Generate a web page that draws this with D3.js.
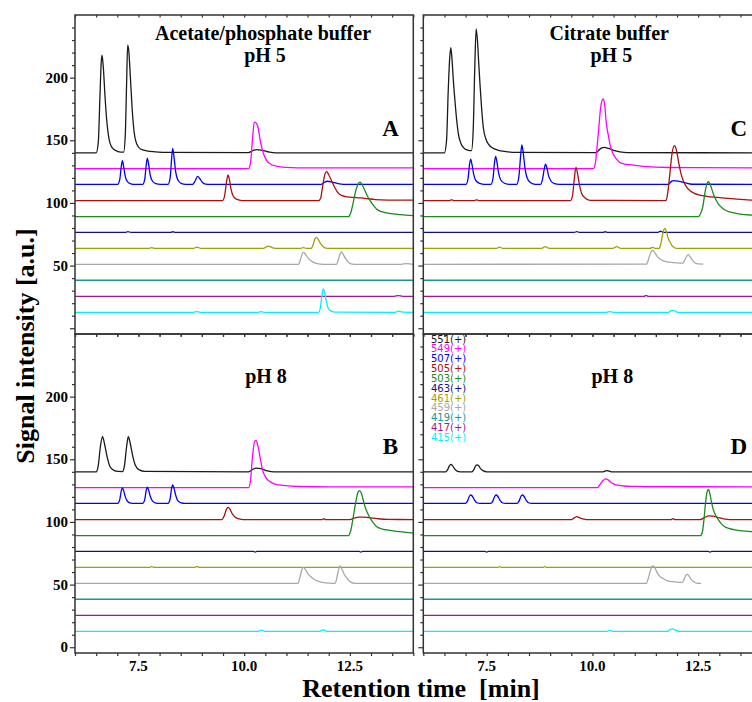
<!DOCTYPE html>
<html><head><meta charset="utf-8">
<script src="https://cdn.jsdelivr.net/npm/d3@7"></script>
<style>body{margin:0;background:#fff} svg{display:block}</style>
</head><body>
<svg id="c" width="752" height="702"></svg>
<script>
// ---------- data ----------
const ions = ["551(+)","549(+)","507(+)","505(+)","503(+)","463(+)","461(+)","459(+)","419(+)","417(+)","415(+)"];
const ionColors = ["#1a1a1a","#ff00ff","#0000ff","#aa1010","#1c8a1c","#10108a","#a0a000","#a8a8a8","#1a9494","#a0188c","#00f0ff"];
const baselines = [140, 127.4, 114.8, 101.9, 89, 76.5, 63.7, 51, 38.3, 25.5, 12.7];
const timeRange = [6, 14];
const xTickLabels = [7.5, 10.0, 12.5];
const yTickLabelsTop = [50, 100, 150, 200];
const yTickLabelsBottom = [0, 50, 100, 150, 200];
// traces recorded only up to their last point (panel, trace index)
const shortRuns = [["C", 7], ["D", 7]];

// Panel A: acetate/phosphate buffer pH 5 — [time (min), signal (a.u.)]
const panelA = [
  [[6.50,140],[6.55,148],[6.59,185],[6.62,212],[6.64,218],[6.67,208],[6.71,185],[6.75,166],[6.80,152],[6.86,145],[6.95,142],[7.08,140.5],
   [7.15,140.5],[7.19,155],[7.22,195],[7.245,226],[7.27,222],[7.31,200],[7.35,176],[7.40,156],[7.46,147],[7.55,143],[7.7,141.5],[7.9,140.8],[8.2,140.3],
   [10.1,140.2],[10.22,142],[10.3,142.6],[10.42,142],[10.6,140.5],[10.75,140]],
  [[10.10,127.4],[10.15,132],[10.20,152],[10.24,164.5],[10.28,164],[10.33,160],[10.38,150],[10.45,140],[10.53,134],[10.65,130.5],[10.8,129.2],[11.0,128.4],[11.5,128],[14,128]],
  [[7.01,114.8],[7.06,119],[7.09,128],[7.12,133.7],[7.15,129],[7.19,121],[7.24,117],[7.32,115.3],[7.42,114.8],
   [7.60,114.8],[7.65,119],[7.68,129],[7.71,135.8],[7.74,131],[7.78,122],[7.83,117.5],[7.91,115.4],[8.02,114.8],
   [8.20,114.8],[8.25,120],[8.28,133],[8.31,143.5],[8.34,137],[8.38,125],[8.43,118.5],[8.51,115.6],[8.62,114.8],
   [8.78,114.8],[8.84,117.5],[8.90,121.2],[8.95,119.5],[9.01,116.5],[9.09,115],[9.2,114.8],
   [11.82,114.8],[11.9,116.5],[11.97,117.3],[12.1,116.5],[12.3,115],[12.4,114.8]],
  [[9.49,101.9],[9.54,106],[9.58,116],[9.62,122.3],[9.65,119],[9.69,111],[9.74,105.5],[9.82,103],[9.95,101.9],
   [11.76,101.9],[11.81,104],[11.86,114],[11.91,123],[11.95,125],[12.0,122.5],[12.07,117.5],[12.14,112.5],[12.21,108.5],[12.32,105.8],[12.45,104.8],[12.6,104.4],[12.75,104],[12.9,103.5],[13.1,102.7],[13.4,102.3],[14,102.2]],
  [[12.46,89],[12.52,92],[12.58,100.5],[12.65,111],[12.70,115.5],[12.74,116.5],[12.79,114.5],[12.86,109.5],[12.93,104.5],[12.98,101.8],[13.06,97.8],[13.13,95.2],[13.25,93],[13.37,92],[13.52,91.2],[13.7,90.6],[14,89.9]],
  [[7.2,76.5],[7.25,77.1],[7.32,76.5],[8.26,76.5],[8.31,77],[8.38,76.5]],
  [[7.74,63.7],[7.81,64.3],[7.9,63.7],[8.8,63.7],[8.88,64.8],[8.98,63.7],[10.45,63.7],[10.57,65.6],[10.7,63.9],[10.8,63.7],[11.33,63.7],[11.4,64.4],[11.47,63.7],
   [11.58,63.7],[11.63,66.5],[11.67,71],[11.71,72.5],[11.75,71],[11.8,68],[11.86,65.5],[11.93,64],[12.05,63.7]],
  [[11.28,51],[11.33,54.5],[11.37,59],[11.40,60.5],[11.44,59.5],[11.50,56.5],[11.57,54],[11.67,52.2],[11.8,51.2],[11.95,51],
   [12.18,51],[12.23,55],[12.27,59.5],[12.30,61],[12.34,59],[12.40,55.5],[12.47,52.5],[12.56,51.2],[12.65,51],
   [13.72,51],[13.82,51.6],[13.95,51.2],[14,51]],
  [],
  [[13.55,25.5],[13.64,26.1],[13.75,25.5]],
  [[8.8,12.7],[8.88,13.3],[8.96,12.7],[10.3,12.7],[10.4,13.2],[10.5,12.7],
   [11.76,12.7],[11.80,16],[11.84,26],[11.87,31.3],[11.90,29],[11.94,22],[11.99,16],[12.06,13.6],[12.15,12.8],
   [13.57,12.7],[13.65,13.6],[13.75,12.8],[14,12.7]]
];

// Panel B: acetate/phosphate buffer pH 8
const panelB = [
  [[6.50,140],[6.55,145],[6.60,160],[6.65,168],[6.70,162],[6.76,152],[6.83,144],[6.92,141.2],[7.02,140.3],
   [7.12,140.2],[7.17,145],[7.22,160],[7.26,168],[7.31,162],[7.37,152],[7.43,145],[7.52,141.5],[7.65,140.3],
   [10.1,140],[10.2,142],[10.28,143],[10.4,142.5],[10.55,140.8],[10.7,140]],
  [[10.11,127.4],[10.15,133],[10.2,153],[10.25,164.5],[10.28,165],[10.33,160],[10.38,151],[10.44,141],[10.52,135],[10.62,132],[10.75,130],[10.92,129.2],[11.3,128.3],[12,128],[14,128]],
  [[7.01,114.8],[7.06,118],[7.09,124],[7.12,127.2],[7.15,125],[7.19,120],[7.24,116.5],[7.32,115],[7.4,114.8],
   [7.60,114.8],[7.65,118],[7.68,124.5],[7.71,127.8],[7.74,125.5],[7.78,120.5],[7.83,116.8],[7.91,115.1],[8.0,114.8],
   [8.20,114.8],[8.25,118.5],[8.28,126],[8.31,129.5],[8.34,127],[8.38,121.5],[8.43,117],[8.51,115.2],[8.6,114.8]],
  [[9.47,101.9],[9.53,105],[9.58,110],[9.62,111.7],[9.66,110.5],[9.72,106.5],[9.79,103.8],[9.88,102.4],[9.98,101.9],
   [11.85,101.9],[11.88,102.6],[11.92,101.9],
   [12.5,101.9],[12.6,103],[12.7,103.8],[12.8,103.9],[12.95,103.4],[13.15,102.6],[13.4,102]],
  [[12.46,89],[12.52,93],[12.58,104],[12.64,116],[12.69,123.5],[12.73,125],[12.77,123],[12.82,117],[12.86,112],[12.92,107],[12.98,103],[13.06,99],[13.13,96.3],[13.25,94.5],[13.37,93.6],[13.52,92.8],[13.68,92.3],[14,91]],
  [[10.22,76.5],[10.26,75.9],[10.3,76.5],[12.72,76.5],[12.76,75.9],[12.8,76.5]],
  [[7.76,63.7],[7.81,64.4],[7.87,63.7],[8.83,63.7],[8.88,64.5],[8.94,63.7]],
  [[11.27,51],[11.32,56],[11.36,61.5],[11.40,63.8],[11.44,62.5],[11.50,59],[11.57,56.5],[11.66,54],[11.78,52.3],[11.95,51.3],[12.1,51],
   [12.15,51],[12.19,55],[12.23,61.5],[12.27,64.9],[12.31,62.5],[12.37,58],[12.44,54.5],[12.52,52],[12.62,51]],
  [],
  [],
  [[10.33,12.7],[10.41,13.6],[10.49,12.7],[11.78,12.7],[11.87,13.8],[11.96,12.7]]
];

// Panel C: citrate buffer pH 5
const panelC = [
  [[6.50,140],[6.55,150],[6.59,190],[6.625,216],[6.65,224],[6.68,214],[6.71,198],[6.75,181],[6.79,166],[6.83,155],[6.89,147.5],[6.95,144.2],[7.03,142.3],[7.10,141.8],
   [7.14,141.8],[7.18,158],[7.215,205],[7.25,239],[7.28,230],[7.31,212],[7.34,195],[7.38,175],[7.42,160],[7.48,151],[7.54,147],[7.64,143.8],[7.76,142.2],[7.95,141],[8.2,140.3],
   [10.08,140.2],[10.15,142],[10.22,144],[10.28,144.4],[10.38,143.5],[10.5,142],[10.65,140.8],[10.82,140.2]],
  [[10.02,127.4],[10.07,132],[10.11,145],[10.15,160],[10.19,175],[10.23,182],[10.26,183],[10.29,178],[10.33,163],[10.37,155],[10.42,146],[10.49,139],[10.57,135],[10.65,132.3],[10.76,131],[10.89,130.5],[11.2,129.2],[11.8,128.3],[14,128]],
  [[7.01,114.8],[7.06,120],[7.09,130],[7.12,135],[7.15,131],[7.19,123],[7.24,118],[7.33,115.6],[7.45,114.8],
   [7.60,114.8],[7.65,120],[7.68,131],[7.71,137.1],[7.74,133],[7.78,124],[7.83,118.5],[7.92,115.7],[8.04,114.8],
   [8.21,114.8],[8.26,121],[8.30,137],[8.33,146.4],[8.36,141],[8.40,129],[8.45,120.5],[8.53,116.3],[8.65,114.8],
   [8.77,114.8],[8.82,119],[8.86,127],[8.89,131],[8.92,128.5],[8.96,122],[9.02,117.5],[9.1,115.4],[9.22,114.8],
   [11.8,114.8],[11.86,117],[11.92,117.8],[12.05,117.2],[12.2,116],[12.35,114.9]],
  [[6.62,101.9],[6.67,102.5],[6.72,101.9],[7.21,101.9],[7.26,102.5],[7.31,101.9],
   [9.48,101.9],[9.53,106],[9.57,119],[9.61,128.3],[9.645,124],[9.69,115],[9.74,108],[9.82,104.2],[9.94,102.1],
   [11.74,101.9],[11.78,108],[11.83,123],[11.88,139],[11.94,145.7],[11.98,143],[12.03,134],[12.09,124],[12.15,117.5],[12.22,113],[12.31,109.7],[12.42,107.5],[12.54,106.3],[12.7,105.3],[12.94,104.4],[13.2,103.6],[13.41,103.1],[13.77,102.3],[14,102]],
  [[12.50,89],[12.55,91],[12.61,97],[12.66,108],[12.71,115.5],[12.74,116.9],[12.78,115],[12.86,107.1],[12.92,102.5],[12.98,99.1],[13.07,96],[13.17,93.8],[13.32,92.2],[13.49,91.1],[13.77,90.3],[14,90]],
  [[9.57,76.5],[9.63,77.1],[9.69,76.5],[10.25,76.5],[10.3,77],[10.36,76.5],[11.55,76.5],[11.61,77.4],[11.67,76.5]],
  [[7.73,63.7],[7.8,64.8],[7.88,63.7],[8.8,63.7],[8.88,65.2],[8.98,63.7],[10.48,63.7],[10.57,65.2],[10.67,63.7],[11.36,63.7],[11.42,64.6],[11.48,63.8],
   [11.58,63.8],[11.62,68],[11.66,75],[11.70,79.3],[11.72,79.6],[11.75,77],[11.79,72],[11.83,69],[11.88,66],[11.93,64.5],[12.0,63.7]],
  [[11.28,51.2],[11.33,55.5],[11.38,60.5],[11.42,62.4],[11.47,60.5],[11.52,58],[11.57,56],[11.66,54],[11.76,53],[11.9,52.4],[12.07,52],[12.14,52],
   [12.19,55],[12.24,58],[12.27,58.7],[12.31,57],[12.36,54.5],[12.42,52.3],[12.5,51.3],[12.62,51.2]],
  [],
  [[11.22,25.5],[11.27,26.2],[11.32,25.5]],
  [[10.33,12.7],[10.41,13.3],[10.49,12.7],[11.8,12.7],[11.86,14.1],[11.93,14],[12.02,12.7]]
];

// Panel D: citrate buffer pH 8
const panelD = [
  [[6.53,140],[6.58,142],[6.62,145],[6.655,146],[6.69,145],[6.74,142.3],[6.8,140.6],[6.88,140],
   [7.15,140],[7.2,142],[7.24,145],[7.27,145.6],[7.31,144.8],[7.36,142.3],[7.42,140.7],[7.5,140],
   [10.25,140],[10.34,141],[10.45,140]],
  [[10.12,127.4],[10.18,130],[10.25,133],[10.31,134.3],[10.37,133.6],[10.44,131.5],[10.52,130],[10.62,129.2],[10.75,128.7],[11.0,128.4],[11.2,128.2],[14,128]],
  [[7.0,114.8],[7.05,117],[7.09,120.5],[7.12,121.5],[7.16,120.5],[7.21,117.5],[7.27,115.3],[7.34,114.8],
   [7.60,114.8],[7.65,117],[7.69,120.5],[7.72,121.5],[7.76,120.5],[7.81,117.5],[7.87,115.3],[7.94,114.8],
   [8.22,114.8],[8.27,117],[8.31,120.5],[8.34,121.5],[8.38,120.5],[8.43,117.5],[8.49,115.3],[8.56,114.8]],
  [[9.5,101.9],[9.58,103.5],[9.63,104.2],[9.7,103.3],[9.8,102.2],[9.86,101.9],
   [11.86,101.9],[11.9,102.6],[11.95,101.9],
   [12.55,101.9],[12.65,103.5],[12.75,104.8],[12.85,104.6],[12.98,103.5],[13.1,102.5],[13.25,101.9]],
  [[12.55,89],[12.6,92],[12.64,103],[12.68,117],[12.72,125],[12.745,126],[12.78,122],[12.82,115],[12.86,109.6],[12.92,105],[12.98,101.6],[13.05,98.5],[13.13,96.2],[13.25,94.6],[13.37,93.6],[13.55,92.8],[13.77,92.3],[14,92]],
  [[7.46,76.5],[7.5,75.9],[7.54,76.5],[12.74,76.5],[12.78,75.9],[12.82,76.5]],
  [[7.76,63.7],[7.8,64.4],[7.85,63.7],[8.83,63.7],[8.87,64.4],[8.92,63.7]],
  [[11.28,51],[11.32,55],[11.37,61],[11.41,64.5],[11.44,64.9],[11.48,63],[11.53,59.5],[11.58,57],[11.66,55],[11.76,53.2],[11.88,52.3],[11.99,51.9],[12.1,51.8],
   [12.13,51.8],[12.17,54.5],[12.21,57.5],[12.24,58.2],[12.28,57],[12.33,54.3],[12.39,52.5],[12.46,51.2],[12.57,51]],
  [],
  [],
  [[10.34,12.7],[10.41,13.3],[10.48,12.7],[11.78,12.7],[11.84,14.3],[11.89,14.6],[11.95,13.8],[12.05,12.7]]
];

// ---------- drawing ----------
const svg = d3.select("#c");
const PW = 338.3, PH = 319;
const x = d3.scaleLinear().domain(timeRange).range([0, PW]);
const y = d3.scaleLinear().domain([-4.6, 250]).range([PH, 0]);
const serif = "'Liberation Serif','Times New Roman',serif";

const panels = [
  {key:"A", data:panelA, left:75,    top:15,  yLabels:yTickLabelsTop,    xLabels:false, titles:[["Acetate/phosphate buffer",188,24.5],["pH 5",190,46.5]]},
  {key:"B", data:panelB, left:75,    top:334, yLabels:yTickLabelsBottom, xLabels:true,  titles:[["pH 8",191,49]]},
  {key:"C", data:panelC, left:423.3, top:15,  yLabels:null,              xLabels:false, titles:[["Citrate buffer",186,24.5],["pH 5",188,46.5]]},
  {key:"D", data:panelD, left:423.3, top:334, yLabels:null,              xLabels:true,  titles:[["pH 8",189,49]]}
];

const line = d3.line().x(d => x(d[0])).y(d => y(d[1])).curve(d3.curveMonotoneX);

panels.forEach(p => {
  const g = svg.append("g").attr("transform", `translate(${p.left},${p.top})`);
  const cid = "clip" + p.key;
  g.append("clipPath").attr("id", cid).append("rect").attr("width", PW).attr("height", PH);

  // traces
  const tg = g.append("g").attr("clip-path", `url(#${cid})`);
  p.data.forEach((pts, i) => {
    const b = baselines[i];
    const isShort = shortRuns.some(r => r[0] === p.key && r[1] === i);
    let s = pts.slice();
    if (!s.length || s[0][0] > timeRange[0]) s.unshift([timeRange[0], b]);
    if (!isShort && s[s.length - 1][0] < timeRange[1]) s.push([timeRange[1], b]);
    tg.append("path").attr("d", line(s)).attr("fill", "none")
      .attr("stroke", ionColors[i]).attr("stroke-width", 1.3).attr("stroke-linejoin", "round");
  });

  // left axis
  const yt = d3.range(0, 250, 10);
  const ya = g.append("g").call(d3.axisLeft(y).tickValues(yt).tickSize(0).tickFormat(""));
  ya.select(".domain").remove();
  ya.selectAll(".tick line").attr("x2", d => d % 50 === 0 ? -5 : -3).attr("stroke", "#333").attr("stroke-width", 1.2);
  if (p.yLabels) {
    p.yLabels.forEach(v => {
      g.append("text").attr("x", -7).attr("y", y(v)).attr("dy", "0.34em")
        .attr("text-anchor", "end").attr("font-family", serif).attr("font-weight", "bold")
        .attr("font-size", 15).text(v);
    });
  }

  // bottom axis ticks (outward) and top ticks (inward)
  const xt = d3.range(6, 14.01, 0.5);
  const xa = g.append("g").attr("transform", `translate(0,${PH})`)
    .call(d3.axisBottom(x).tickValues(xt).tickSize(0).tickFormat(""));
  xa.select(".domain").remove();
  xa.selectAll(".tick line").attr("y2", 3).attr("stroke", "#333").attr("stroke-width", 1.2);
  const xa2 = g.append("g").call(d3.axisTop(x).tickValues(xt).tickSize(0).tickFormat(""));
  xa2.select(".domain").remove();
  xa2.selectAll(".tick line").attr("y2", 2.5).attr("stroke", "#333").attr("stroke-width", 1.2);
  if (p.xLabels) {
    xTickLabels.forEach(v => {
      g.append("text").attr("x", x(v)).attr("y", PH + 18).attr("text-anchor", "middle")
        .attr("font-family", serif).attr("font-weight", "bold").attr("font-size", 15)
        .text(d3.format(".1f")(v));
    });
  }

  // frame
  g.append("rect").attr("width", PW).attr("height", PH).attr("fill", "none")
    .attr("stroke", "#333").attr("stroke-width", 1.5);

  // titles
  p.titles.forEach(t => {
    g.append("text").attr("x", t[1]).attr("y", t[2]).attr("text-anchor", "middle")
      .attr("font-family", serif).attr("font-weight", "bold").attr("font-size", 20).text(t[0]);
  });
  g.append("text").attr("x", 315.5).attr("y", p.top === 15 ? 120.5 : 120)
    .attr("text-anchor", "middle").attr("font-family", serif).attr("font-weight", "bold")
    .attr("font-size", 23).text(p.key);
});

// legend in panel D
const lg = svg.append("g");
ions.forEach((name, i) => {
  lg.append("text").attr("x", 431).attr("y", 342.5 + i * 9.85)
    .attr("font-family", "'DejaVu Sans',Verdana,sans-serif").attr("font-size", 10)
    .attr("fill", ionColors[i]).text(name);
});

// axis titles
svg.append("text").attr("x", 421).attr("y", 697).attr("text-anchor", "middle")
  .attr("font-family", serif).attr("font-weight", "bold").attr("font-size", 26)
  .style("white-space", "pre").text("Retention time  [min]");
svg.append("text").attr("transform", "translate(34,346) rotate(-90)").attr("text-anchor", "middle")
  .attr("font-family", serif).attr("font-weight", "bold").attr("font-size", 26)
  .text("Signal intensity [a.u.]");
</script>
</body></html>
